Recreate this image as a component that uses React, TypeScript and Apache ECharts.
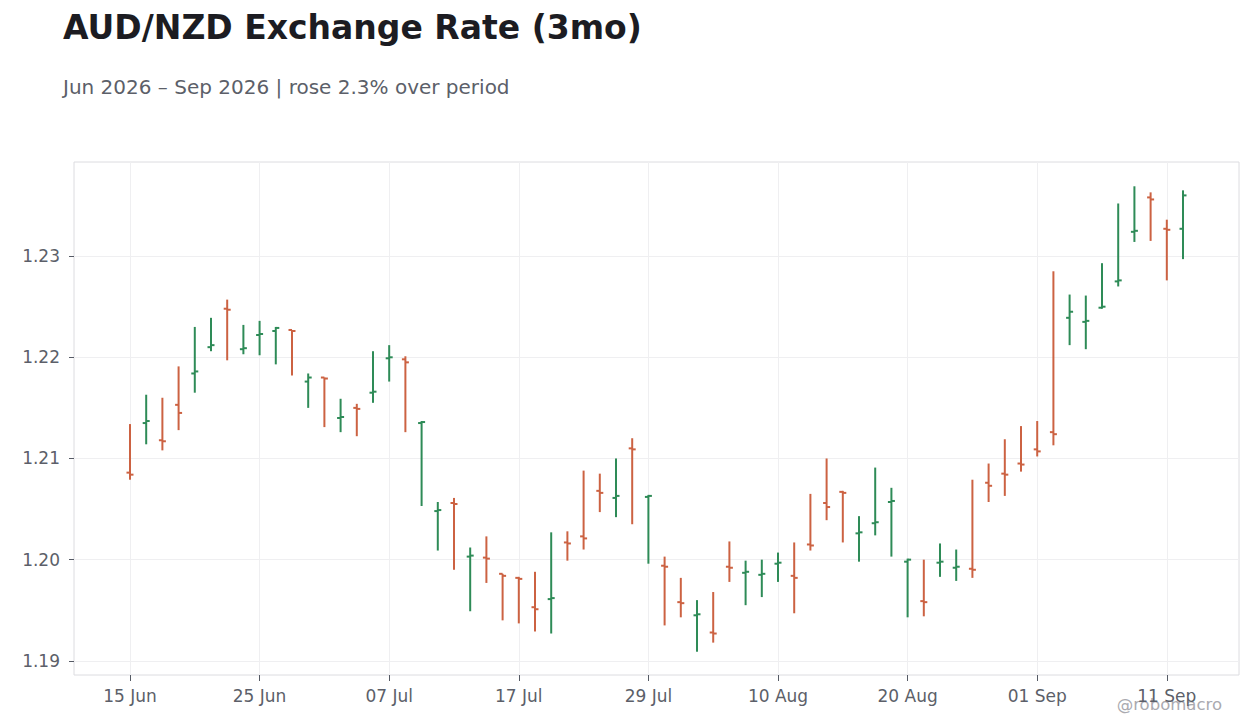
import React, { useEffect, useRef } from 'react';
import * as echarts from 'echarts';

// business days shown on the x axis
const dates: string[] = [
  '2026-06-15', '2026-06-16', '2026-06-17', '2026-06-18', '2026-06-19',
  '2026-06-22', '2026-06-23', '2026-06-24', '2026-06-25', '2026-06-26',
  '2026-06-29', '2026-06-30', '2026-07-01', '2026-07-02', '2026-07-03',
  '2026-07-06', '2026-07-07', '2026-07-08', '2026-07-09', '2026-07-10',
  '2026-07-13', '2026-07-14', '2026-07-15', '2026-07-16', '2026-07-17',
  '2026-07-20', '2026-07-21', '2026-07-22', '2026-07-23', '2026-07-24',
  '2026-07-27', '2026-07-28', '2026-07-29', '2026-07-30', '2026-07-31',
  '2026-08-03', '2026-08-04', '2026-08-05', '2026-08-06', '2026-08-07',
  '2026-08-10', '2026-08-11', '2026-08-12', '2026-08-13', '2026-08-14',
  '2026-08-17', '2026-08-18', '2026-08-19', '2026-08-20', '2026-08-21',
  '2026-08-24', '2026-08-25', '2026-08-26', '2026-08-27', '2026-08-28',
  '2026-08-31', '2026-09-01', '2026-09-02', '2026-09-03', '2026-09-04',
  '2026-09-07', '2026-09-08', '2026-09-09', '2026-09-10', '2026-09-11',
  '2026-09-14',
];

const open: number[] = [
  1.2086, 1.2135, 1.2118, 1.2153, 1.2184, 1.2210, 1.2248, 1.2208, 1.2222, 1.2226,
  1.2227, 1.2176, 1.2180, 1.2140, 1.2150, 1.2165, 1.2199, 1.2198, 1.2135, 1.2048,
  1.2056, 1.2003, 1.2002, 1.1986, 1.1982, 1.1953, 1.1961, 1.2017, 1.2023, 1.2068,
  1.2061, 1.2110, 1.2062, 1.1994, 1.1958, 1.1945, 1.1928, 1.1993, 1.1987, 1.1985,
  1.1996, 1.1984, 1.2015, 1.2056, 1.2067, 1.2026, 1.2036, 1.2057, 1.1998, 1.1959,
  1.1997, 1.1992, 1.1991, 1.2076, 1.2085, 1.2095, 1.2109, 1.2126, 1.2239, 1.2235,
  1.2249, 1.2275, 1.2324, 1.2358, 1.2327, 1.2327,
];
const close: number[] = [
  1.2084, 1.2137, 1.2117, 1.2145, 1.2186, 1.2212, 1.2247, 1.2209, 1.2223, 1.2229,
  1.2226, 1.2180, 1.2179, 1.2141, 1.2149, 1.2166, 1.2200, 1.2195, 1.2136, 1.2049,
  1.2055, 1.2004, 1.2001, 1.1984, 1.1981, 1.1951, 1.1962, 1.2016, 1.2021, 1.2066,
  1.2063, 1.2109, 1.2063, 1.1993, 1.1957, 1.1946, 1.1927, 1.1992, 1.1988, 1.1986,
  1.1997, 1.1982, 1.2014, 1.2052, 1.2066, 1.2027, 1.2037, 1.2058, 1.2000, 1.1958,
  1.1998, 1.1993, 1.1990, 1.2073, 1.2084, 1.2094, 1.2107, 1.2124, 1.2245, 1.2236,
  1.2250, 1.2276, 1.2325, 1.2356, 1.2326, 1.2360,
];
const low: number[] = [
  1.2079, 1.2114, 1.2108, 1.2128, 1.2165, 1.2206, 1.2197, 1.2203, 1.2202, 1.2193,
  1.2182, 1.2150, 1.2131, 1.2126, 1.2122, 1.2155, 1.2176, 1.2126, 1.2053, 1.2009,
  1.1990, 1.1949, 1.1977, 1.1940, 1.1937, 1.1929, 1.1927, 1.1999, 1.2010, 1.2047,
  1.2042, 1.2035, 1.1996, 1.1935, 1.1943, 1.1909, 1.1918, 1.1978, 1.1955, 1.1963,
  1.1978, 1.1947, 1.2009, 1.2039, 1.2017, 1.1998, 1.2024, 1.2003, 1.1943, 1.1944,
  1.1983, 1.1979, 1.1982, 1.2057, 1.2063, 1.2087, 1.2102, 1.2113, 1.2212, 1.2208,
  1.2248, 1.2270, 1.2314, 1.2315, 1.2276, 1.2297,
];
const high: number[] = [
  1.2134, 1.2163, 1.2160, 1.2191, 1.2230, 1.2239, 1.2257, 1.2232, 1.2236, 1.2230,
  1.2227, 1.2184, 1.2180, 1.2159, 1.2154, 1.2206, 1.2212, 1.2201, 1.2137, 1.2057,
  1.2061, 1.2012, 1.2023, 1.1986, 1.1983, 1.1988, 1.2027, 1.2028, 1.2088, 1.2085,
  1.2100, 1.2120, 1.2064, 1.2003, 1.1982, 1.1960, 1.1968, 1.2018, 1.1999, 1.2000,
  1.2007, 1.2017, 1.2065, 1.2100, 1.2068, 1.2043, 1.2091, 1.2071, 1.2001, 1.2000,
  1.2016, 1.2010, 1.2079, 1.2095, 1.2119, 1.2132, 1.2137, 1.2285, 1.2262, 1.2261,
  1.2293, 1.2352, 1.2369, 1.2363, 1.2336, 1.2365,
];

const xTickIndexes = [0, 8, 16, 24, 32, 40, 48, 56, 64];
const yTicks = [1.19, 1.2, 1.21, 1.22, 1.23];

const UP = '#2e8b57';
const DOWN = '#cc6242';
const FONT = 'DejaVu Sans';
const MONTHS = ['Jan', 'Feb', 'Mar', 'Apr', 'May', 'Jun', 'Jul', 'Aug', 'Sep', 'Oct', 'Nov', 'Dec'];

const fmtDate = (iso: string) => {
  const [, m, d] = iso.split('-');
  return `${d} ${MONTHS[Number(m) - 1]}`;
};

const App: React.FC = () => {
  const chartRef = useRef<HTMLDivElement>(null);

  useEffect(() => {
    const chart = echarts.init(chartRef.current as HTMLDivElement, undefined, { renderer: 'svg' });
    const data = dates.map((_, i) => [i, open[i], close[i], low[i], high[i]]);

    const option: echarts.EChartsOption = {
      animation: false,
      backgroundColor: '#ffffff',
      title: {
        text: 'AUD/NZD Exchange Rate (3mo)',
        subtext: 'Jun 2026 – Sep 2026 | rose 2.3% over period',
        left: 58,
        top: 6,
        itemGap: 33,
        textStyle: { fontFamily: FONT, fontSize: 33, fontWeight: 'bold', color: '#1c1c22' },
        subtextStyle: { fontFamily: FONT, fontSize: 20, color: '#5c5f69' },
      },
      grid: {
        left: 74,
        right: 21,
        top: 162,
        bottom: 53,
        show: true,
        borderColor: '#dcdce0',
        borderWidth: 1,
      },
      xAxis: {
        type: 'value',
        min: -3.456,
        max: dates.length - 1 + 3.456,
        axisLine: { show: false, onZero: false },
        axisTick: {
          show: true,
          length: 6,
          customValues: xTickIndexes,
          lineStyle: { color: '#555a64', width: 1 },
        },
        axisLabel: {
          customValues: xTickIndexes,
          formatter: (v: number) => fmtDate(dates[Math.round(v)] ?? ''),
          fontFamily: FONT,
          fontSize: 17,
          color: '#5c5f69',
          margin: 12,
        },
        splitLine: { show: true, lineStyle: { color: '#efeff1', width: 1 } },
      },
      yAxis: {
        type: 'value',
        min: 1.1886,
        max: 1.2393,
        axisLine: { show: false, onZero: false },
        axisTick: {
          show: true,
          length: 5,
          customValues: yTicks,
          lineStyle: { color: '#555a64', width: 1 },
        },
        axisLabel: {
          customValues: yTicks,
          formatter: (v: number) => v.toFixed(2),
          fontFamily: FONT,
          fontSize: 17,
          color: '#5c5f69',
          margin: 14,
        },
        splitLine: { show: true, lineStyle: { color: '#efeff1', width: 1 } },
      },
      graphic: [
        {
          type: 'text',
          right: 38,
          top: 696,
          style: {
            text: '@robomacro',
            fontFamily: FONT,
            fontSize: 16.5,
            fill: '#aaaab0',
          },
        },
      ],
      series: [
        {
          type: 'custom',
          name: 'AUD/NZD',
          data,
          encode: { x: 0, y: [1, 2, 3, 4] },
          renderItem: (params: any, api: any) => {
            const i = api.value(0);
            const o = api.coord([i, api.value(1)]);
            const c = api.coord([i, api.value(2)]);
            const l = api.coord([i, api.value(3)]);
            const h = api.coord([i, api.value(4)]);
            const color = api.value(2) >= api.value(1) ? UP : DOWN;
            const style = { stroke: color, lineWidth: 2 };
            return {
              type: 'group',
              children: [
                { type: 'line', shape: { x1: h[0], y1: h[1], x2: l[0], y2: l[1] }, style },
                { type: 'line', shape: { x1: o[0] - 3.5, y1: o[1], x2: o[0], y2: o[1] }, style },
                { type: 'line', shape: { x1: c[0], y1: c[1], x2: c[0] + 3.5, y2: c[1] }, style },
              ],
            };
          },
        },
      ],
    };
    chart.setOption(option);

    return () => {
      chart.dispose();
    };
  }, []);

  return (
    <div
      ref={chartRef}
      style={{ position: 'fixed', left: 0, top: 0, width: 1260, height: 728 }}
    />
  );
};

export default App;
